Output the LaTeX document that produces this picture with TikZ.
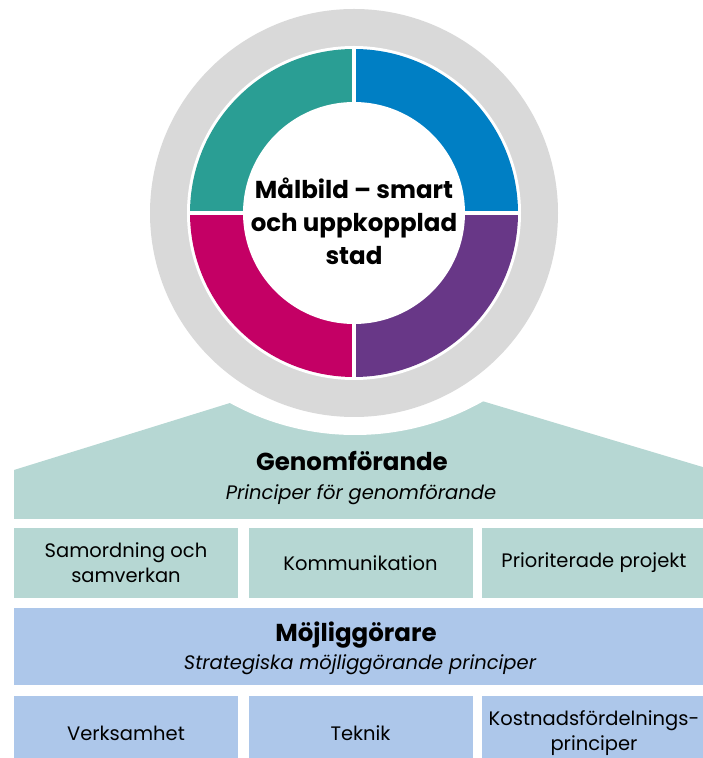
\documentclass[tikz,border=0pt]{standalone}
\usepackage{fontspec}
\setmainfont{Poppins}
\usepackage{xcolor}
\usepackage{tikz}
\definecolor{ringgray}{HTML}{D9D9D9}
\definecolor{quadteal}{HTML}{2A9E94}
\definecolor{quadblue}{HTML}{007FC4}
\definecolor{quadpurple}{HTML}{683787}
\definecolor{quadmagenta}{HTML}{C40065}
\definecolor{paleteal}{HTML}{B6D7D3}
\definecolor{paleblue}{HTML}{ADC7EA}
\tikzset{
	cell/.style={minimum width=224pt, minimum height=70pt, inner sep=0pt, align=center, font=\fontsize{19.5}{25}\selectfont},
	tealcell/.style={cell, fill=paleteal},
	bluecell/.style={cell, fill=paleblue, minimum height=74pt},
	heading/.style={font=\bfseries\fontsize{24.5}{28}\selectfont},
	subheading/.style={font=\itshape\fontsize{19.5}{22}\selectfont}
}

\begin{document}
\begin{tikzpicture}[x=1pt,y=1pt]
						\useasboundingbox (0,0) rectangle (703,758);
						\coordinate (C) at (354,545);
						
						\fill[paleteal] (14,288) -- (230,355) -- (482,357) -- (706,290) -- (706,239) -- (14,239) -- cycle;
						\fill[white] (355,583) circle (260);
						\fill[ringgray] (C) circle (204);
						\fill[white] (C) circle (167);
						
						\fill[quadblue] (C) -- ++(0:164) arc[start angle=0, end angle=90, radius=164] -- cycle;
						\fill[quadteal] (C) -- ++(90:164) arc[start angle=90, end angle=180, radius=164] -- cycle;
						\fill[quadmagenta] (C) -- ++(180:164) arc[start angle=180, end angle=270, radius=164] -- cycle;
						\fill[quadpurple] (C) -- ++(270:164) arc[start angle=270, end angle=360, radius=164] -- cycle;
						\draw[white, line width=4pt] ([xshift=-166pt]C) -- ([xshift=166pt]C);
						\draw[white, line width=4pt] ([yshift=-166pt]C) -- ([yshift=166pt]C);
						\fill[white] (C) circle (111);
						
						\node (goal) at (354,537) [align=center, font=\bfseries\fontsize{24.5}{33}\selectfont] {Målbild – smart\\och uppkopplad\\stad};
						
						\node (impl) at (352,297) [heading] {Genomförande};
						\node (implsub) at (361,263) [subheading] {Principer för genomförande};
						
						\node (coord) at (126,195) [tealcell] {Samordning och\\samverkan};
						\node (comm) at (360.5,195) [tealcell] {Kommunikation};
						\node (proj) at (594,195) [tealcell] {Prioriterade projekt};
						
						\fill[paleblue] (14,73) rectangle (706,150);
						\node (enab) at (356,123) [heading] {Möjliggörare};
						\node (enabsub) at (360,93) [subheading] {Strategiska möjliggörande principer};
						
						\node (ops) at (126,25) [bluecell] {Verksamhet};
						\node (tech) at (360.5,25) [bluecell] {Teknik};
						\node (cost) at (594,25) [bluecell] {Kostnadsfördelnings-\\principer};
					\end{tikzpicture}
\end{document}
